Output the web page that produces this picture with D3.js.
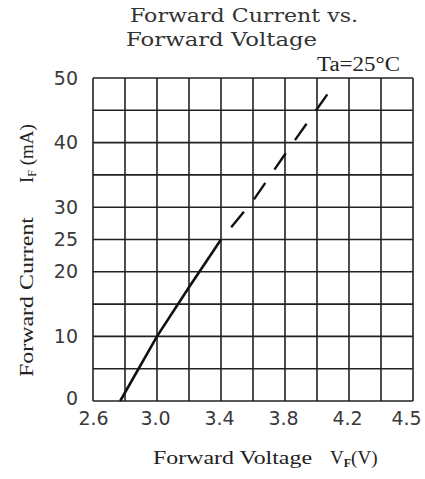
<!DOCTYPE html>
<html>
<head>
<meta charset="utf-8">
<script src="https://cdn.jsdelivr.net/npm/d3@7"></script>
<style>
  body { margin: 0; background: #fff; }
  svg { display: block; }
</style>
</head>
<body>
<script>
// chart values
var voltTicks = [2.6, 3.0, 3.4, 3.8, 4.2, 4.5];
var voltGrid = [2.6, 2.8, 3.0, 3.2, 3.4, 3.6, 3.8, 4.0, 4.2, 4.35, 4.5];
var currentTicks = [0, 10, 20, 25, 30, 40, 50];
var currentGrid = [0, 5, 10, 15, 20, 25, 30, 35, 40, 45, 50];

// measured part (solid)
var measuredV = [2.77, 3.0, 3.2, 3.4];
var measuredI = [0, 10, 17.6, 25];
// extrapolated part (dashed)
var extrapV = [3.4, 3.6, 3.8, 4.08];
var extrapI = [25, 31, 38.2, 48];

var W = 425, H = 479;
var pLeft = 93, pRight = 413, pTop = 78, pBottom = 401;

var svg = d3.select("body").append("svg")
  .attr("width", W).attr("height", H);

// axis is not linear: 4.2 -> 4.5 takes the same width as 0.4 steps
var xScale = d3.scaleLinear().domain(voltTicks)
  .range(voltTicks.map(function(d, i){ return pLeft + i * (pRight - pLeft) / 5; }));
var yScale = d3.scaleLinear().domain([0, 50]).range([pBottom, pTop]);

var grid = svg.append("g").attr("stroke", "#222").attr("stroke-width", 1.6);
grid.selectAll("line.v").data(voltGrid).enter().append("line")
  .attr("class", "v")
  .attr("x1", function(d){ return xScale(d); }).attr("x2", function(d){ return xScale(d); })
  .attr("y1", pTop).attr("y2", pBottom);
grid.selectAll("line.h").data(currentGrid).enter().append("line")
  .attr("class", "h")
  .attr("y1", function(d){ return yScale(d); }).attr("y2", function(d){ return yScale(d); })
  .attr("x1", pLeft).attr("x2", pRight);

var xAxis = d3.axisBottom(xScale).tickValues(voltTicks)
  .tickFormat(d3.format(".1f")).tickSize(0).tickPadding(11);
var yAxis = d3.axisLeft(yScale).tickValues(currentTicks)
  .tickSize(0).tickPadding(15);

var gx = svg.append("g").attr("transform", "translate(0," + pBottom + ")").call(xAxis);
var gy = svg.append("g").attr("transform", "translate(" + pLeft + ",0)").call(yAxis);
[gx, gy].forEach(function(g){
  g.select(".domain").remove();
  g.selectAll("text")
    .attr("font-family", "DejaVu Sans")
    .attr("font-size", 19)
    .attr("fill", "#3a3a3a");
});
gx.selectAll("text").attr("dx", function(d){ return d === 4.5 ? -7 : (d === 2.6 ? 0 : -2); });
gy.selectAll("text").filter(function(d){ return d === 0; }).attr("dy", "0.2em");

// curve
var line = d3.line()
  .x(function(d){ return xScale(d[0]); })
  .y(function(d){ return yScale(d[1]); });

svg.append("path")
  .datum(d3.zip(measuredV, measuredI))
  .attr("d", line)
  .attr("fill", "none").attr("stroke", "#111").attr("stroke-width", 2.6);

svg.append("path")
  .datum(d3.zip(extrapV, extrapI))
  .attr("d", line)
  .attr("fill", "none").attr("stroke", "#111").attr("stroke-width", 2.4)
  .attr("stroke-dasharray", "20,16").attr("stroke-dashoffset", 20);

// titles
var serif = "Liberation Serif";
var wide = "DejaVu Serif";
svg.append("text").attr("x", 130).attr("y", 22)
  .attr("font-family", wide).attr("font-size", 18).attr("fill", "#333")
  .attr("textLength", 228).attr("lengthAdjust", "spacingAndGlyphs")
  .text("Forward Current vs.");
svg.append("text").attr("x", 126).attr("y", 46)
  .attr("font-family", wide).attr("font-size", 18).attr("fill", "#333")
  .attr("textLength", 191).attr("lengthAdjust", "spacingAndGlyphs")
  .text("Forward Voltage");
svg.append("text").attr("x", 317).attr("y", 71)
  .attr("font-family", serif).attr("font-size", 20).attr("fill", "#222")
  .attr("textLength", 83).attr("lengthAdjust", "spacingAndGlyphs")
  .text("Ta=25°C");

// x axis title
var xt = svg.append("text").attr("x", 153).attr("y", 464)
  .attr("font-family", serif).attr("font-size", 19).attr("fill", "#222");
xt.append("tspan").text("Forward Voltage").attr("textLength", 159).attr("lengthAdjust", "spacingAndGlyphs");
xt.append("tspan").attr("x", 330).text("V");
xt.append("tspan").attr("font-size", 12).attr("font-weight", "bold").attr("dy", 3).text("F");
xt.append("tspan").attr("dy", -3).text("(V)");

// y axis titles (rotated)
svg.append("text").attr("transform", "translate(33,297) rotate(-90)")
  .attr("text-anchor", "middle")
  .attr("font-family", serif).attr("font-size", 19).attr("fill", "#222")
  .attr("textLength", 160).attr("lengthAdjust", "spacingAndGlyphs")
  .text("Forward Current");
var yt = svg.append("text").attr("transform", "translate(33,183) rotate(-90)")
  .attr("font-family", serif).attr("font-size", 19).attr("fill", "#222");
yt.append("tspan").text("I");
yt.append("tspan").attr("font-size", 12).attr("dy", 3).text("F");
yt.append("tspan").attr("dy", -3).text(" (mA)");
</script>
</body>
</html>
